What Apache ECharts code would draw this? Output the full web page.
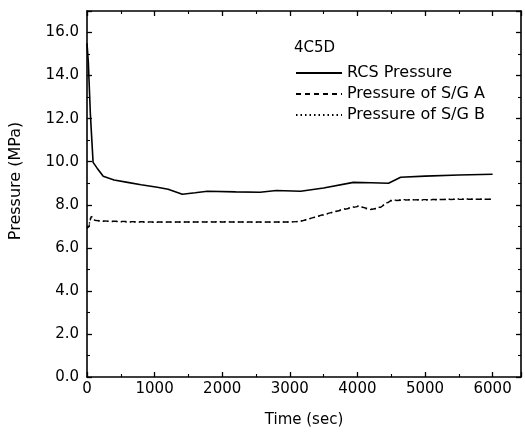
<!DOCTYPE html>
<html>
<head>
<meta charset="utf-8">
<script src="https://cdn.jsdelivr.net/npm/echarts@6/dist/echarts.min.js"></script>
<style>
    html, body { margin: 0; padding: 0; background: #fff; }
    #chart { width: 525px; height: 433px; }
</style>
</head>
<body>
<div id="chart"></div>
<script>
// values (time in sec, pressure in MPa)
const rcsTime = [0, 20, 50, 90, 150, 240, 400, 600, 800, 1040, 1200, 1410, 1600, 1780, 2200, 2560, 2800, 3160, 3500, 3940, 4200, 4460, 4640, 5000, 5500, 6000];
const rcsPressure = [15.5, 14.6, 12.2, 9.97, 9.7, 9.32, 9.15, 9.04, 8.93, 8.81, 8.72, 8.49, 8.56, 8.63, 8.6, 8.58, 8.66, 8.63, 8.78, 9.04, 9.02, 9.0, 9.28, 9.33, 9.38, 9.42];

const sgTimeA = [0, 30, 60, 100, 200, 600, 1000, 1500, 2000, 2500, 3000, 3150, 3500, 3800, 4020, 4120, 4220, 4340, 4490, 4700, 5000, 5500, 6000];
const sgPressureA = [6.9, 7.0, 7.45, 7.28, 7.25, 7.22, 7.2, 7.2, 7.2, 7.2, 7.2, 7.22, 7.55, 7.78, 7.93, 7.85, 7.79, 7.88, 8.18, 8.22, 8.24, 8.25, 8.26];

const sgTimeB = [0, 30, 60, 100, 200, 600, 1000, 1500, 2000, 2500, 3000, 3150, 3500, 3800, 4020, 4120, 4220, 4340, 4490, 4700, 5000, 5500, 6000];
const sgPressureB = [6.95, 7.05, 7.5, 7.3, 7.24, 7.2, 7.19, 7.2, 7.21, 7.19, 7.2, 7.23, 7.53, 7.8, 7.95, 7.82, 7.77, 7.9, 8.2, 8.24, 8.22, 8.27, 8.25];

const seriesNames = ['RCS Pressure', 'Pressure of S/G A', 'Pressure of S/G B'];
const caseLabel = '4C5D';

const xTicks = { min: 0, max: 6420, interval: 1000 };
const yTicks = { min: 0, max: 17, interval: 2 };

function pairs(xs, ys) {
    return xs.map((x, i) => [x, ys[i]]);
}

const font = 'DejaVu Sans, sans-serif';
const myChart = echarts.init(document.getElementById('chart'));

const axisCommon = {
    axisLine: { show: true, onZero: false, lineStyle: { color: '#000', width: 1.6 } },
    axisTick: { show: true, inside: true, length: 5, lineStyle: { color: '#000', width: 1.3 } },
    minorTick: { show: true, splitNumber: 2, length: 3, lineStyle: { color: '#000', width: 1.1 } },
    splitLine: { show: false },
};

const option = {
    animation: false,
    backgroundColor: '#fff',
    grid: { left: 86, right: 4, top: 11, bottom: 55 },
    title: {
        text: caseLabel,
        left: 289,
        top: 36,
        textStyle: { fontFamily: font, fontSize: 15, fontWeight: 'normal', color: '#000' },
    },
    legend: {
        left: 290,
        top: 60,
        orient: 'vertical',
        itemWidth: 46,
        itemHeight: 10,
        itemGap: 5,
        itemStyle: { opacity: 0 },
        textStyle: { fontFamily: font, fontSize: 16, color: '#000' },
        data: seriesNames,
    },
    xAxis: [
        {
            type: 'value',
            min: xTicks.min,
            max: xTicks.max,
            interval: xTicks.interval,
            name: 'Time (sec)',
            nameLocation: 'middle',
            nameGap: 36,
            nameTextStyle: { fontFamily: font, fontSize: 15, color: '#000' },
            axisLabel: {
                fontFamily: font, fontSize: 15, color: '#000', margin: 5,
                formatter: (v) => String(v),
                showMaxLabel: false,
            },
            ...axisCommon,
        },
        {
            type: 'value',
            position: 'top',
            min: xTicks.min,
            max: xTicks.max,
            interval: xTicks.interval,
            axisLabel: { show: false },
            ...axisCommon,
        },
    ],
    yAxis: [
        {
            type: 'value',
            min: yTicks.min,
            max: yTicks.max,
            interval: yTicks.interval,
            name: 'Pressure (MPa)',
            nameLocation: 'middle',
            nameGap: 63,
            nameTextStyle: { fontFamily: font, fontSize: 16, color: '#000', padding: [0, 0, 0, 26] },
            axisLabel: {
                fontFamily: font, fontSize: 15, color: '#000', margin: 8,
                formatter: (v) => v.toFixed(1),
                showMaxLabel: false,
            },
            ...axisCommon,
        },
        {
            type: 'value',
            position: 'right',
            min: yTicks.min,
            max: yTicks.max,
            interval: yTicks.interval,
            axisLabel: { show: false },
            ...axisCommon,
        },
    ],
    series: [
        {
            name: seriesNames[0],
            type: 'line',
            data: pairs(rcsTime, rcsPressure),
            showSymbol: false,
            symbol: 'none',
            lineStyle: { color: '#000', width: 1.6, type: 'solid' },
            itemStyle: { color: '#000' },
        },
        {
            name: seriesNames[1],
            type: 'line',
            data: pairs(sgTimeA, sgPressureA),
            showSymbol: false,
            symbol: 'none',
            lineStyle: { color: '#000', width: 1.4, type: [5, 4] },
            itemStyle: { color: '#000' },
        },
        {
            name: seriesNames[2],
            type: 'line',
            data: pairs(sgTimeB, sgPressureB),
            showSymbol: false,
            symbol: 'none',
            lineStyle: { color: '#000', width: 1.4, type: [1.5, 3] },
            itemStyle: { color: '#000' },
        },
    ],
};

myChart.setOption(option, true);
</script>
</body>
</html>
